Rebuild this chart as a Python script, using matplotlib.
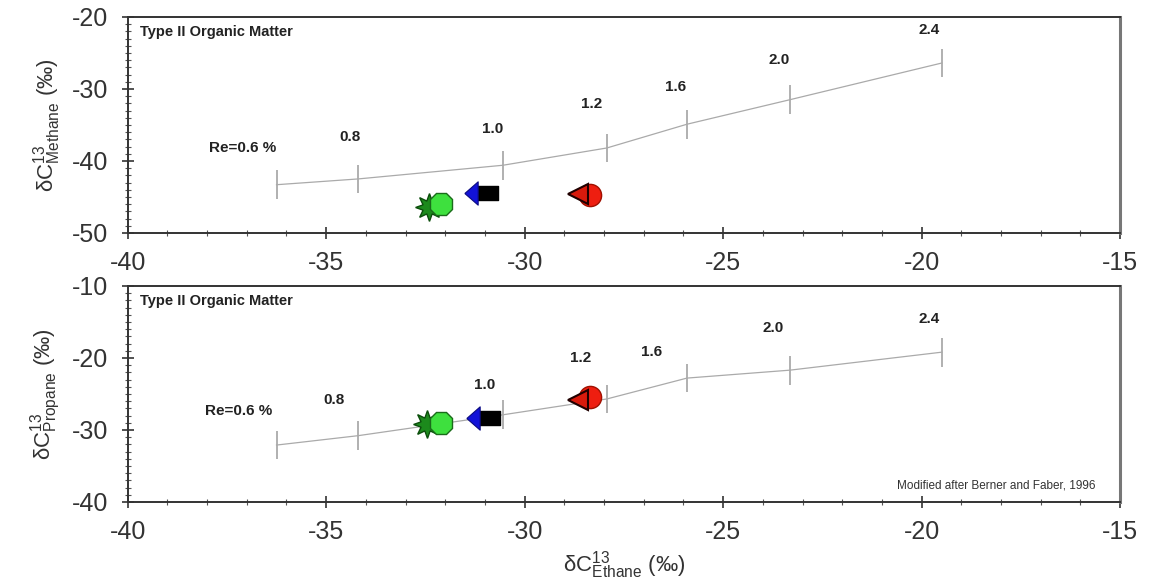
import numpy as np
import matplotlib.pyplot as plt
from matplotlib.path import Path
from matplotlib.ticker import MultipleLocator

plt.rcParams['font.family'] = ['Liberation Sans', 'DejaVu Sans']
plt.rcParams['mathtext.fontset'] = 'custom'
plt.rcParams['mathtext.rm'] = 'Liberation Sans'
plt.rcParams['mathtext.it'] = 'Liberation Sans'
plt.rcParams['axes.unicode_minus'] = False

# maturity curve (Berner & Faber, type II kerogen)
ethane = [-36.25, -34.2, -30.55, -27.93, -25.91, -23.32, -19.49]
methane = [-43.3, -42.5, -40.6, -38.2, -34.9, -31.5, -26.4]
propane = [-32.1, -30.8, -27.9, -25.7, -22.8, -21.7, -19.2]
bar_half = 2.0

ro_labels = ['Re=0.6 %', '0.8', '1.0', '1.2', '1.6', '2.0', '2.4']
lab_x_top = [-37.1, -34.4, -30.8, -28.3, -26.2, -23.6, -19.8]
lab_y_top = [-38.2, -36.7, -35.6, -32.1, -29.7, -26.0, -21.8]
lab_x_bot = [-37.2, -34.8, -31.0, -28.6, -26.8, -23.75, -19.8]
lab_y_bot = [-27.4, -25.8, -23.75, -20.0, -19.2, -15.8, -14.6]

# gas samples
samp_ethane_top = [-32.4, -32.1, -31.1, -28.65, -28.35]
samp_methane = [-46.4, -46.0, -44.4, -44.6, -44.7]
samp_ethane_bot = [-32.45, -32.1, -31.05, -28.65, -28.35]
samp_propane = [-29.2, -29.0, -28.3, -25.8, -25.4]

# arrow marker: blue head + black tail, same extent so they scale together
arrow_head = Path([(-1, 0), (-0.2, 0.7), (-0.2, -0.7), (-1, 0)])
arrow_tail = Path([(-0.25, 0.42), (1, 0.42), (1, -0.42), (-0.25, -0.42), (-0.25, 0.42)])

fig, (ax1, ax2) = plt.subplots(2, 1, figsize=(11.5, 5.83), dpi=100)
fig.subplots_adjust(left=0.111, right=0.974, top=0.971, bottom=0.139, hspace=0.245)


def draw_panel(ax, yvals, ylim, lx, ly, sx, sy, ylabel):
    ax.errorbar(ethane, yvals, yerr=bar_half, color='#aaaaaa', lw=0.9,
                elinewidth=1.3, capsize=0, zorder=2)
    for t, x, y in zip(ro_labels, lx, ly):
        ax.text(x, y, t, fontsize=11, fontweight='bold', color='#222222',
                ha='center', va='center')
    # green star and octagon
    ax.plot(sx[0], sy[0], linestyle='none', zorder=3, marker=(8, 1, 0),
            color='#1c8a1c', mec='#0b4d0b', ms=20, mew=1.0)
    ax.plot(sx[1], sy[1], linestyle='none', zorder=4, marker='8',
            color='#3ee03e', mec='#1a6b1a', ms=17, mew=1.0)
    # blue arrow
    ax.plot(sx[2], sy[2], marker=arrow_tail, color='black', ms=24,
            linestyle='none', zorder=5)
    ax.plot(sx[2], sy[2], marker=arrow_head, color='#1212d8', mec='#0a0a80',
            ms=24, mew=0.8, linestyle='none', zorder=6)
    # red circle under the dark triangle
    ax.plot(sx[4], sy[4], linestyle='none', zorder=7, marker='o',
            color='#ee1e10', mec='#a01000', ms=16, mew=1.0)
    ax.plot(sx[3], sy[3], linestyle='none', zorder=8, marker='<', color='#d81a0c',
            mec='#200000', ms=15, mew=1.5)
    ax.set_xlim(-40, -15)
    ax.set_ylim(*ylim)
    ax.xaxis.set_major_locator(MultipleLocator(5))
    ax.xaxis.set_minor_locator(MultipleLocator(1))
    ax.yaxis.set_major_locator(MultipleLocator(10))
    ax.yaxis.set_minor_locator(MultipleLocator(1))
    ax.tick_params(which='major', direction='inout', length=8, width=1.2,
                   labelsize=18, colors='#333333')
    ax.tick_params(which='minor', direction='inout', length=4, width=0.8,
                   color='#555555')
    ax.tick_params(axis='x', pad=9)
    ax.tick_params(axis='y', pad=10)
    for s in ax.spines.values():
        s.set_linewidth(1.4)
        s.set_color('#333333')
    ax.spines['right'].set_color('#777777')
    ax.spines['right'].set_linewidth(2.2)
    ax.set_ylabel(ylabel, fontsize=16, labelpad=6, color='#333333')
    ax.text(0.012, 0.93, 'Type II Organic Matter', transform=ax.transAxes,
            fontsize=10.5, fontweight='bold', color='#222222', va='center')


draw_panel(ax1, methane, (-50, -20), lab_x_top, lab_y_top,
           samp_ethane_top, samp_methane,
           r'$\delta$C$^{13}_{\mathrm{Methane}}$ (‰)')
draw_panel(ax2, propane, (-40, -10), lab_x_bot, lab_y_bot,
           samp_ethane_bot, samp_propane,
           r'$\delta$C$^{13}_{\mathrm{Propane}}$ (‰)')

ax2.text(0.975, 0.06, 'Modified after Berner and Faber, 1996',
         transform=ax2.transAxes, fontsize=8.5, color='#333333', ha='right')
ax2.set_xlabel(r'$\delta$C$^{13}_{\mathrm{Ethane}}$ (‰)', fontsize=16,
               labelpad=4, color='#333333')

fig.savefig('out.png', dpi=100)
